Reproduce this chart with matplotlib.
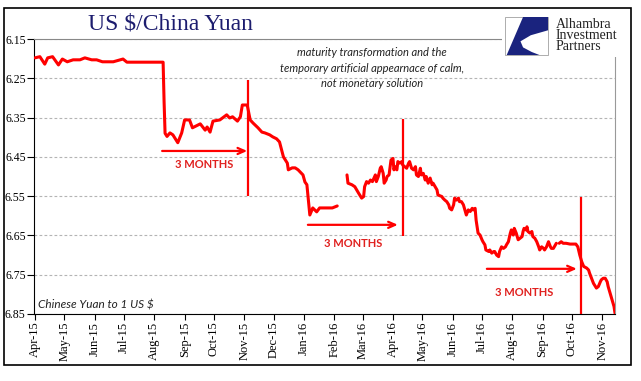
import matplotlib
matplotlib.use("Agg")
import numpy as np
import pandas as pd
import matplotlib.pyplot as plt
from matplotlib.patches import Rectangle, Polygon

# USD/CNY (None = gap in the series)
dates = [
    "2015-04-01", "2015-04-06", "2015-04-11", "2015-04-14", "2015-04-19", "2015-04-25",
    "2015-04-29", "2015-05-04", "2015-05-10", "2015-05-17", "2015-05-22", "2015-05-29",
    "2015-06-03", "2015-06-09", "2015-06-20", "2015-06-30", "2015-07-04", "2015-08-07",
    "2015-08-10", "2015-08-11", "2015-08-12", "2015-08-14", "2015-08-17", "2015-08-20",
    "2015-08-25", "2015-08-29", "2015-09-01", "2015-09-06", "2015-09-09", "2015-09-17",
    "2015-09-22", "2015-09-24", "2015-09-27", "2015-09-30", "2015-10-07", "2015-10-14",
    "2015-10-17", "2015-10-20", "2015-10-25", "2015-10-28", "2015-10-30", "2015-11-04",
    "2015-11-05", "2015-11-07", "2015-11-10", "2015-11-15", "2015-11-19", "2015-11-22",
    "2015-11-27", "2015-11-30", "2015-12-04", "2015-12-07", "2015-12-11", "2015-12-15",
    "2015-12-16", "2015-12-20", "2015-12-23", "2015-12-26", "2015-12-31", "2016-01-02",
    "2016-01-04", "2016-01-05", "2016-01-07", "2016-01-10", "2016-01-14", "2016-01-17",
    "2016-01-25", "2016-01-30", "2016-02-02", "2016-02-04", "2016-02-09",
    "2016-02-14", "2016-02-15", "2016-02-19", "2016-02-22", "2016-02-26", "2016-02-29",
    "2016-03-02", "2016-03-03", "2016-03-05", "2016-03-07", "2016-03-09", "2016-03-11",
    "2016-03-14", "2016-03-15", "2016-03-17", "2016-03-19", "2016-03-20", "2016-03-22",
    "2016-03-23", "2016-03-25", "2016-03-26", "2016-03-28", "2016-03-30", "2016-04-01",
    "2016-04-02", "2016-04-03", "2016-04-05", "2016-04-06", "2016-04-08", "2016-04-10",
    "2016-04-11", "2016-04-13", "2016-04-15", "2016-04-17", "2016-04-18", "2016-04-20",
    "2016-04-22", "2016-04-24", "2016-04-25", "2016-04-27", "2016-04-29", "2016-04-30",
    "2016-05-02", "2016-05-04", "2016-05-05", "2016-05-07", "2016-05-09", "2016-05-11",
    "2016-05-12", "2016-05-16", "2016-05-17", "2016-05-21", "2016-05-22", "2016-05-24",
    "2016-05-26", "2016-05-28", "2016-05-29", "2016-05-31", "2016-06-02", "2016-06-03",
    "2016-06-05", "2016-06-07", "2016-06-08", "2016-06-10", "2016-06-12", "2016-06-14",
    "2016-06-15", "2016-06-17", "2016-06-19", "2016-06-21", "2016-06-22", "2016-06-24",
    "2016-06-25", "2016-06-26", "2016-06-27", "2016-06-29", "2016-07-01", "2016-07-02",
    "2016-07-04", "2016-07-05", "2016-07-08", "2016-07-09", "2016-07-11", "2016-07-13",
    "2016-07-14", "2016-07-16", "2016-07-18", "2016-07-19", "2016-07-21", "2016-07-23",
    "2016-07-25", "2016-07-26", "2016-07-28", "2016-07-30", "2016-07-31", "2016-08-02",
    "2016-08-03", "2016-08-05", "2016-08-07", "2016-08-09", "2016-08-11", "2016-08-12",
    "2016-08-13", "2016-08-15", "2016-08-16", "2016-08-17", "2016-08-19", "2016-08-21",
    "2016-08-22", "2016-08-24", "2016-08-26", "2016-08-28", "2016-08-29", "2016-08-31",
    "2016-09-02", "2016-09-03", "2016-09-05", "2016-09-07", "2016-09-09", "2016-09-10",
    "2016-09-12", "2016-09-14", "2016-09-15", "2016-09-16",
    "2016-09-18", "2016-09-20", "2016-09-22", "2016-09-25", "2016-09-29", "2016-10-02",
    "2016-10-05", "2016-10-07", "2016-10-09", "2016-10-11", "2016-10-13", "2016-10-16",
    "2016-10-18", "2016-10-19", "2016-10-21", "2016-10-23", "2016-10-25", "2016-10-26",
    "2016-10-28", "2016-10-30", "2016-10-31", "2016-11-02", "2016-11-04", "2016-11-06",
    "2016-11-07", "2016-11-09", "2016-11-11", "2016-11-13", "2016-11-14",
]
values = [
    6.198, 6.195, 6.214, 6.198, 6.195, 6.216,
    6.201, 6.208, 6.203, 6.203, 6.198, 6.203,
    6.203, 6.208, 6.208, 6.201, 6.209, 6.209,
    6.209, 6.310, 6.390, 6.398, 6.389, 6.394,
    6.414, 6.389, 6.356, 6.356, 6.376, 6.366,
    6.382, 6.374, 6.387, 6.359, 6.356, 6.343,
    6.351, 6.348, 6.359, 6.348, 6.318, 6.318,
    6.331, 6.356, 6.364, 6.376, 6.387, 6.389,
    6.394, 6.399, 6.404, 6.412, 6.450, 6.466,
    6.483, 6.478, 6.478, 6.483, 6.496, 6.514,
    6.521, 6.547, 6.598, 6.580, 6.590, 6.580,
    6.580, 6.580, 6.577, 6.575, None,
    6.496, 6.517, 6.521, 6.526, 6.543, 6.555,
    6.551, 6.526, 6.513, 6.517, 6.509, 6.513,
    6.496, 6.513, 6.500, 6.479, 6.475, 6.492,
    6.517, 6.509, 6.500, 6.496, 6.458, 6.454,
    6.483, 6.475, 6.483, 6.462, 6.466, 6.462,
    6.471, 6.475, 6.479, 6.466, 6.462, 6.479,
    6.483, 6.475, 6.496, 6.500, 6.479, 6.496,
    6.492, 6.509, 6.500, 6.517, 6.504, 6.521,
    6.517, 6.534, 6.547, 6.551, 6.555, 6.560,
    6.564, 6.572, 6.581, 6.585, 6.572, 6.555,
    6.560, 6.555, 6.564, 6.564, 6.572, 6.589,
    6.598, 6.585, 6.589, 6.581, 6.585, 6.581,
    6.611, 6.628, 6.644, 6.649, 6.661, 6.666,
    6.674, 6.687, 6.691, 6.687, 6.695, 6.691,
    6.691, 6.700, 6.704, 6.691, 6.679, 6.683,
    6.679, 6.674, 6.666, 6.644, 6.636, 6.649,
    6.632, 6.644, 6.661, 6.657, 6.653, 6.640,
    6.632, 6.636, 6.628, 6.640, 6.644, 6.640,
    6.653, 6.657, 6.666, 6.679, 6.687, 6.679,
    6.683, 6.687, 6.679, 6.666, 6.679, 6.683,
    6.683, 6.674, 6.670, None,
    6.670, 6.666, 6.670, 6.670, 6.672, 6.672,
    6.672, 6.679, 6.700, 6.717, 6.729, 6.733,
    6.738, 6.746, 6.759, 6.772, 6.780, 6.784,
    6.780, 6.768, 6.763, 6.759, 6.759, 6.768,
    6.780, 6.797, 6.814, 6.831, 6.848,
]

yticks = [6.15, 6.25, 6.35, 6.45, 6.55, 6.65, 6.75, 6.85]
month_ticks = pd.date_range("2015-04-01", "2016-11-01", freq="MS")

# "3 MONTHS" annotations: arrow start/end, arrow level, marker line date and span, label spot
arrow_start = ["2015-08-09", "2016-01-05", "2016-07-06"]
arrow_end = ["2015-11-04", "2016-04-06", "2016-10-06"]
arrow_level = [6.435, 6.623, 6.735]
marker_date = ["2015-11-05", "2016-04-11", "2016-10-10"]
marker_top = [6.254, 6.354, 6.552]
marker_bottom = [6.55, 6.651, 6.85]
label_date = ["2015-09-21", "2016-02-20", "2016-08-13"]
label_level = [6.47, 6.67, 6.794]

RED = "#ff0000"
W, H = 641, 381

x = pd.to_datetime(dates)
y = np.array([np.nan if v is None else v for v in values], dtype=float)

fig = plt.figure(figsize=(W / 100, H / 100), dpi=100)
ax = fig.add_axes([34 / W, 1 - 314 / H, (615 - 34) / W, (314 - 39) / H])

ax.plot(x, y, color=RED, lw=2.2, solid_joinstyle="round", solid_capstyle="round", zorder=3)

for i in range(3):
    ax.annotate("", xy=(pd.Timestamp(arrow_end[i]), arrow_level[i]),
                xytext=(pd.Timestamp(arrow_start[i]), arrow_level[i]),
                arrowprops=dict(arrowstyle="->,head_length=0.5,head_width=0.22",
                                color=RED, lw=1.6, shrinkA=0, shrinkB=0))
    ax.vlines(pd.Timestamp(marker_date[i]), marker_top[i], marker_bottom[i],
              color=RED, lw=1.6, zorder=4)
    ax.text(pd.Timestamp(label_date[i]), label_level[i], "3 MONTHS", color="#e0201e",
            fontsize=8, fontweight="bold", family=["Lato", "DejaVu Sans"],
            ha="center", va="center")

ax.set_ylim(6.85, 6.15)
ax.set_yticks(yticks)
ax.set_yticklabels(["%.2f" % t for t in yticks])
ax.set_xlim(pd.Timestamp("2015-03-31"), pd.Timestamp("2016-11-14"))
ax.set_xticks(month_ticks)
ax.set_xticklabels([d.strftime("%b-%y") for d in month_ticks], rotation=90)

for lab in ax.get_xticklabels():
    lab.set_family("Liberation Serif")
    lab.set_fontsize(9)
for lab in ax.get_yticklabels():
    lab.set_family("Liberation Serif")
    lab.set_fontsize(8.5)
ax.tick_params(axis="x", length=4, width=0.8, pad=1.5)
ax.tick_params(axis="y", length=5, width=0.8, pad=1)

ax.yaxis.grid(True, ls=(0, (2.5, 2)), color="#b4b4b4", lw=0.8)
ax.set_axisbelow(True)
ax.spines["left"].set_color("black")
ax.spines["bottom"].set_color("black")
ax.spines["top"].set_color("#888888")
ax.spines["right"].set_color("#999999")
for s in ["top", "right"]:
    ax.spines[s].set_linewidth(0.8)

ax.text(4 / 581, 0.033, "Chinese Yuan to 1 US $", transform=ax.transAxes, style="italic",
        fontsize=8.5, family=["Lato", "DejaVu Sans"], color="#222222", va="center")

fig.text(372 / W, 1 - 68 / H,
         "maturity transformation and the\ntemporary artificial appearnace of calm,\nnot monetary solution",
         ha="center", va="center", style="italic", fontsize=8, linespacing=1.45,
         family=["Lato", "DejaVu Sans"], color="#222222")

fig.text(170 / W, 1 - 24 / H, "US $/China Yuan", ha="center", va="center",
         fontsize=17, family="Liberation Serif", color="#1c1c6e")

# logo block covering the top-right corner of the plot frame
fig.patches.append(Rectangle((502 / W, 1 - 57 / H), 128 / W, 47 / H, transform=fig.transFigure,
                             fc="white", ec="none", zorder=5))
fig.patches.append(Rectangle((505 / W, 1 - 55 / H), 43 / W, 38 / H, transform=fig.transFigure,
                             fc="white", ec="#a0a0a0", lw=0.6, zorder=6))
shape = [(0.42, 0), (1, 0), (1, 0.35), (0.6, 0.48), (0.36, 0.64), (0.42, 0.8),
         (0.62, 0.92), (0.8, 1.0), (0.04, 1.0)]
fig.patches.append(Polygon([((505 + u * 43) / W, 1 - (17 + v * 38) / H) for u, v in shape],
                           closed=True, transform=fig.transFigure, fc="#1a237e", ec="none", zorder=7))
fig.text(556 / W, 1 - 35.5 / H, "Alhambra\nInvestment\nPartners", ha="left", va="center",
         fontsize=10, linespacing=0.82, family="Liberation Serif", color="#222222", zorder=8)

# outer frame
fig.patches.append(Rectangle((4 / W, 1 - 365 / H), 627 / W, 357 / H, transform=fig.transFigure,
                             fill=False, ec="black", lw=1.2, zorder=9))

fig.savefig("out.png", dpi=100)
